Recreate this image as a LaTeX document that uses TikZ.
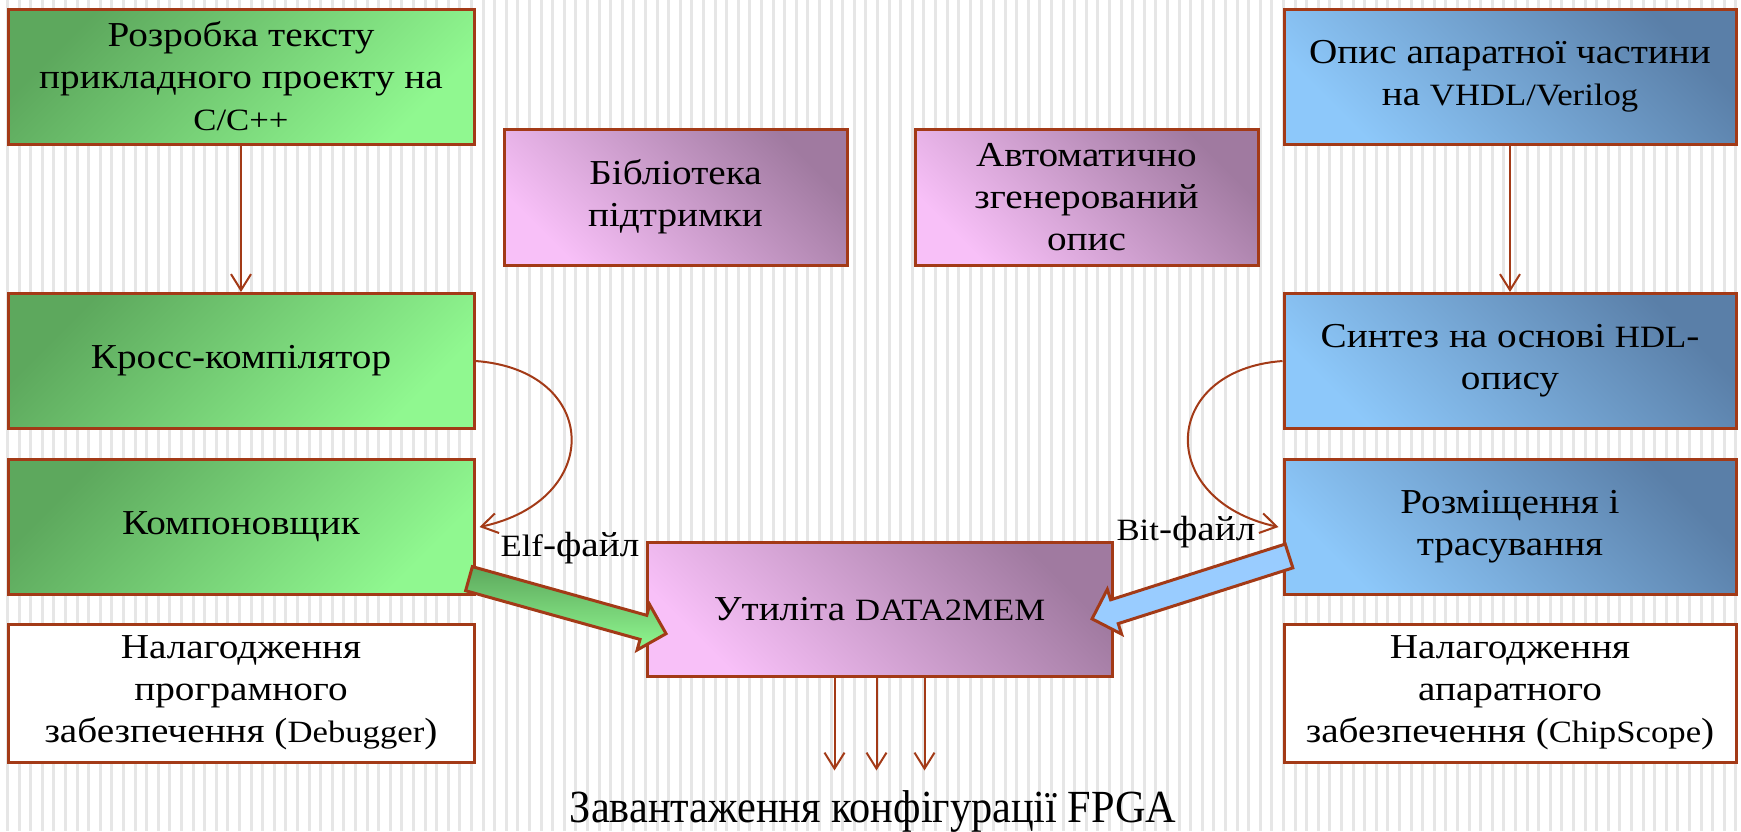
\documentclass[tikz,border=0pt]{standalone}
\usepackage{fontspec}
\setmainfont{Liberation Serif}[FakeStretch=1.12]
\newfontfamily\loadfont{Liberation Serif}[FakeStretch=0.92]
\newcommand\lat[1]{{\fontsize{15.5}{21}\selectfont#1}}
\usetikzlibrary{arrows.meta,shapes.arrows}

\begin{document}
\begin{tikzpicture}[x=0.5pt,y=-0.5pt,
  box/.style={draw=bord,line width=1.5pt,align=center,inner sep=0pt,
    font=\fontsize{17.5}{21}\selectfont},
  greenbox/.style={box,top color=grdark,bottom color=grlight,shading angle=45,
    minimum width=233pt,minimum height=67.5pt},
  bluebox/.style={box,top color=bldark,bottom color=bllight,shading angle=-45,
    minimum width=226pt,minimum height=67.5pt},
  violetbox/.style={box,top color=vidark,bottom color=vilight,shading angle=-45,
    minimum width=171.5pt,minimum height=68pt},
  whitebox/.style={box,fill=white,minimum width=233pt,minimum height=69pt},
  link/.style={draw=bord,line width=1pt,-{Straight Barb[length=8pt,width=10pt]}},
  fatarrow/.style={single arrow,draw=bord,line width=1.5pt,inner xsep=0pt,
    inner ysep=5.5pt,single arrow head extend=5.5pt,single arrow head indent=0pt},
  lbl/.style={font=\fontsize{17.5}{21}\selectfont,inner sep=0pt}]
\definecolor{bord}{HTML}{A33A17}
\definecolor{grdark}{HTML}{5DA85D}
\definecolor{grlight}{HTML}{90F890}
\definecolor{bldark}{HTML}{5A7FA8}
\definecolor{bllight}{HTML}{8DC8FA}
\definecolor{vidark}{HTML}{A07AA0}
\definecolor{vilight}{HTML}{F8C0F8}
\definecolor{blarrow}{HTML}{99CCFF}
\definecolor{stripe}{HTML}{E6E6E6}
\useasboundingbox (0,0) rectangle (1741,831);
\fill[white] (0,0) rectangle (1741,831);
\foreach \i in {0,...,150}
  {\fill[stripe] (6+\i*11.6,0) rectangle ++(3,831);}

\node[greenbox] (src) at (241,76.5) {Розробка тексту\\прикладного проекту на\\\lat{C/C++}};
\node[greenbox] (comp) at (241,361) {Кросс-компілятор};
\node[greenbox] (linker) at (241,527) {Компоновщик};
\node[whitebox] (swdbg) at (241,693) {Налагодження\\програмного\\забезпечення (\lat{Debugger})};
\node[violetbox] (lib) at (675.5,197) {Бібліотека\\підтримки};
\node[violetbox] (autodesc) at (1086.5,197) {Автоматично\\згенерований\\опис};
\node[bluebox] (hdl) at (1510,76.5) {Опис апаратної частини\\на \lat{VHDL/Verilog}};
\node[bluebox] (synth) at (1510,361) {Синтез на основі \lat{HDL}-\\опису};
\node[bluebox] (par) at (1510,527) {Розміщення і\\трасування};
\node[whitebox,minimum width=226pt] (hwdbg) at (1510,693) {Налагодження\\апаратного\\забезпечення (\lat{ChipScope})};
\node[violetbox,minimum width=232.5pt,minimum height=67pt] (d2m) at (879.5,609) {Утиліта \lat{DATA2MEM}};

\draw[link] (src) -- (comp);
\draw[link] (hdl) -- (synth);
\draw[link] (comp.east) .. controls (600,370) and (605,500) .. ([xshift=2pt]linker.east);
\draw[link] (synth.west) .. controls (1160,370) and (1155,500) .. ([xshift=-2pt]par.west);
\foreach \dx in {-45,-3,45}
  {\draw[link] ([xshift=\dx*0.5pt]d2m.south) -- ++(0,93);}

\node[fatarrow,top color=grdark,bottom color=grlight,rotate=-15.6,
  minimum height=102.3pt] (elfarrow) at (561.5,604.5) {};
\node[fatarrow,fill=blarrow,rotate=197.7,
  minimum height=103.4pt] (bitarrow) at (1196.5,585.5) {};

\node[lbl] (elf) at (570,548) {\lat{Elf}-файл};
\node[lbl] (bit) at (1186,532) {\lat{Bit}-файл};
\node[font=\loadfont\fontsize{23}{28}\selectfont,anchor=base,inner sep=0pt] (load) at (873,822) {Завантаження конфігурації FPGA};
\end{tikzpicture}
\end{document}
